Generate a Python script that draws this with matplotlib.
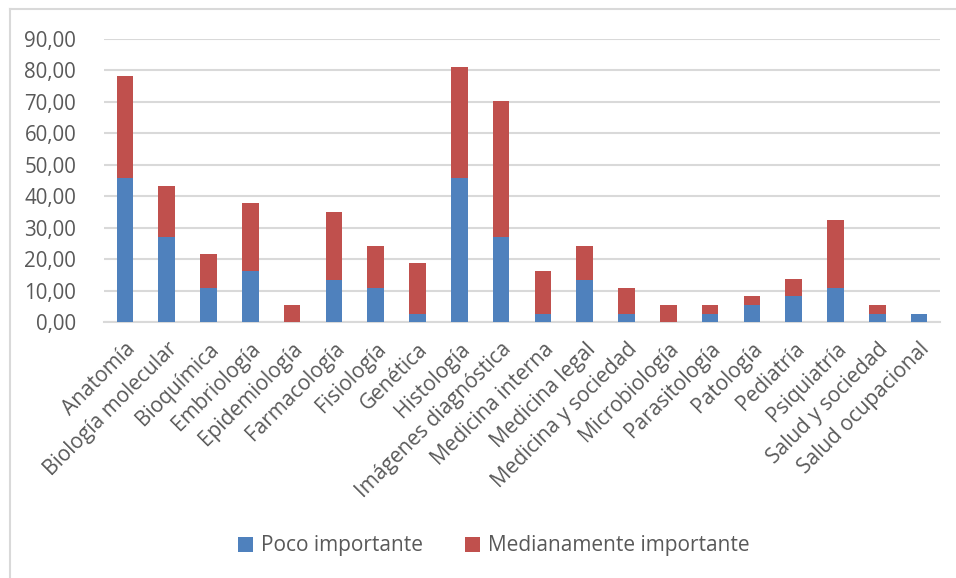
import matplotlib.pyplot as plt
import numpy as np

# Data
categorias = ["Anatomía", "Biología molecular", "Bioquímica", "Embriología",
              "Epidemiología", "Farmacología", "Fisiología", "Genética",
              "Histología", "Imágenes diagnóstica", "Medicina interna",
              "Medicina legal", "Medicina y sociedad", "Microbiología",
              "Parasitología", "Patología", "Pediatría", "Psiquiatría",
              "Salud y sociedad", "Salud ocupacional"]

poco_importante = [45.95, 27.03, 10.81, 16.22, 0.00, 13.51, 10.81, 2.70,
                   45.95, 27.03, 2.70, 13.51, 2.70, 0.00, 2.70, 5.41,
                   8.11, 10.81, 2.70, 2.70]
medianamente_importante = [32.43, 16.22, 10.81, 21.62, 5.41, 21.62, 13.51, 16.22,
                           35.14, 43.24, 13.51, 10.81, 8.11, 5.41, 2.70, 2.70,
                           5.41, 21.62, 2.70, 0.00]

yticks = np.arange(0, 100, 10)

plt.rcParams['font.family'] = ['Open Sans', 'DejaVu Sans']
texto = '#595959'
azul = '#4F81BD'
rojo = '#C0504D'

fig = plt.figure(figsize=(9.56, 5.78), dpi=100)
ax = fig.add_axes([104 / 956, 256 / 578, 836 / 956, 283 / 578])

x = np.arange(len(categorias))
ax.bar(x, poco_importante, width=0.4, color=azul, label='Poco importante', zorder=3)
ax.bar(x, medianamente_importante, width=0.4, bottom=poco_importante,
       color=rojo, label='Medianamente importante', zorder=3)

ax.set_xlim(-0.5, len(categorias) - 0.5)
ax.set_ylim(0, 90)
ax.set_yticks(yticks)
ax.set_yticklabels(['%d,00' % v for v in yticks], fontsize=14.8, color=texto)
ax.yaxis.grid(True, color='#D9D9D9', linewidth=1.5, zorder=0)
ax.tick_params(axis='y', length=0, pad=20)
ax.tick_params(axis='x', length=0, pad=12)

ax.set_xticks(x)
ax.set_xticklabels(categorias, rotation=45, ha='right', va='top',
                   rotation_mode='anchor', fontsize=15, color=texto)

for s in ['top', 'right', 'left']:
    ax.spines[s].set_visible(False)
ax.spines['bottom'].set_color('#D9D9D9')
ax.spines['bottom'].set_linewidth(1.5)

# chart area border
fig.add_artist(plt.Line2D([10 / 956, 10 / 956], [0, 1 - 9 / 578],
                          color='#D9D9D9', linewidth=1.5))
fig.add_artist(plt.Line2D([10 / 956, 1], [1 - 9 / 578, 1 - 9 / 578],
                          color='#D9D9D9', linewidth=1.5))

leg = fig.legend(loc='center', bbox_to_anchor=(494 / 956, 32 / 578), ncol=2,
                 frameon=False, fontsize=15, handlelength=0.7, handleheight=0.7,
                 columnspacing=2.0, handletextpad=0.4)
for t in leg.get_texts():
    t.set_color(texto)

plt.savefig('out.png', dpi=100)
